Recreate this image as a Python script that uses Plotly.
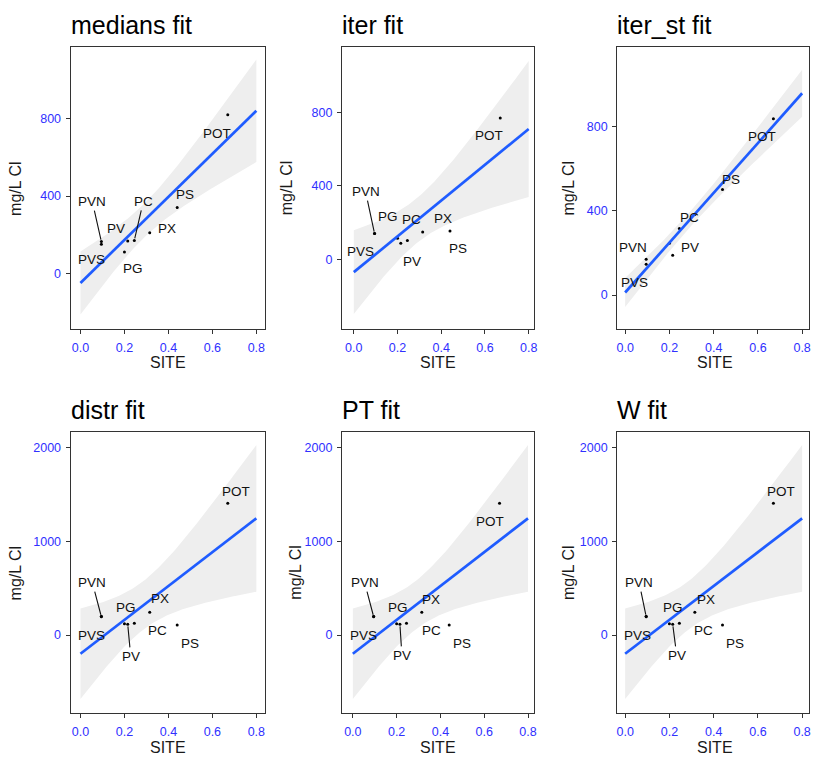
import numpy as np
import plotly.graph_objects as go

# ---------------- data ----------------
sites = ["PVN", "PVS", "PG", "PV", "PC", "PX", "PS", "POT"]
site_x = [0.095, 0.095, 0.2, 0.215, 0.245, 0.315, 0.44, 0.67]

medians_y = [164, 150, 110, 167, 170, 210, 341, 821]
iter_y = [140, 140, 115, 87, 102, 149, 154, 771]
iter_st_y = [170, 147, 247, 189, 316, 383, 502, 838]
distr_y = [196, 200, 120, 114, 125, 243, 107, 1408]
pt_y = [196, 200, 120, 114, 125, 243, 107, 1408]
w_y = [196, 200, 120, 114, 125, 243, 107, 1408]

panel_titles = ["medians fit", "iter fit", "iter_st fit", "distr fit", "PT fit", "W fit"]
panel_values = [medians_y, iter_y, iter_st_y, distr_y, pt_y, w_y]

x_ticks = [0.0, 0.2, 0.4, 0.6, 0.8]
y_ticks_top = [0, 400, 800]
y_ticks_bottom = [0, 1000, 2000]
x_title = "SITE"
y_title = "mg/L Cl"

# ---------------- layout / positions (pixels) ----------------
W, H = 813, 758
col_px = [(70, 266), (343, 536), (620, 813)]
row_px = [(47, 329), (432, 713)]
x_ranges = [[-0.045, 0.841], [-0.0545, 0.823], [-0.036, 0.831],
            [-0.045, 0.841], [-0.050, 0.826], [-0.036, 0.831]]
y_ranges = [[-289, 1172], [-381, 1159], [-161, 1179],
            [-834, 2171], [-834, 2171], [-834, 2171]]
ytitle_x = [15, 288, 572, 15, 296, 571]

# label offsets in pixels (dx, dy, draw segment)
label_offsets = [
    {"POT": (-11, 19, 0), "PS": (8, -13, 0), "PX": (17, -4, 0), "PC": (9, -39, 1),
     "PV": (-12, -12, 0), "PG": (9, 17, 0), "PVN": (-9, -40, 1), "PVS": (-10, 15, 0)},
    {"POT": (-11, 17, 0), "PS": (8, 17, 0), "PX": (20, -13, 0), "PC": (4, -21, 0),
     "PV": (11, 18, 0), "PG": (-10, -22, 0), "PVN": (-9, -42, 1), "PVS": (-14, 18, 0)},
    {"POT": (-11, 18, 0), "PS": (9, -10, 0), "PC": (10, -11, 0), "PV": (17, -8, 0),
     "PVN": (-13, -12, 0), "PVS": (-12, 18, 0)},
    {"POT": (8, -12, 0), "PS": (13, 18, 0), "PX": (10, -14, 0), "PC": (23, 7, 0),
     "PV": (3, 32, 1), "PG": (2, -16, 0), "PVN": (-9, -34, 1), "PVS": (-10, 19, 0)},
    {"POT": (-10, 18, 0), "PS": (13, 18, 0), "PX": (9, -13, 0), "PC": (25, 7, 0),
     "PV": (2, 31, 1), "PG": (1, -16, 0), "PVN": (-9, -34, 1), "PVS": (-10, 19, 0)},
    {"POT": (8, -12, 0), "PS": (13, 18, 0), "PX": (11, -13, 0), "PC": (24, 7, 0),
     "PV": (4, 31, 1), "PG": (4, -16, 0), "PVN": (-7, -34, 1), "PVS": (-9, 19, 0)},
]

FONT = "Liberation Sans, Arial, sans-serif"
TICK_BLUE = "#3030ff"
AXIS_GREY = "#333333"
T975_DF6 = 2.446912  # Student t quantile used by lm confidence band (n=8)


def lm_band(x, y, grid):
    x = np.asarray(x, float)
    y = np.asarray(y, float)
    n = len(x)
    xm, ym = x.mean(), y.mean()
    sxx = ((x - xm) ** 2).sum()
    b = ((x - xm) * (y - ym)).sum() / sxx
    a = ym - b * xm
    resid = y - (a + b * x)
    s = np.sqrt((resid ** 2).sum() / (n - 2))
    fit = a + b * grid
    se = s * np.sqrt(1.0 / n + (grid - xm) ** 2 / sxx)
    return fit, fit - T975_DF6 * se, fit + T975_DF6 * se


def px2x(p):
    return p / W


def px2y(p):
    return 1 - p / H


fig = go.Figure()
annotations = []
grid = np.linspace(0, 0.8, 101)

for i in range(6):
    r, c = divmod(i, 3)
    k = "" if i == 0 else str(i + 1)
    xa, ya = "x" + k, "y" + k
    vals = panel_values[i]
    fit, lo, hi = lm_band(site_x, vals, grid)

    fig.add_trace(go.Scatter(x=grid, y=lo, xaxis=xa, yaxis=ya, mode="lines",
                             line=dict(width=0, color="rgba(0,0,0,0)"),
                             hoverinfo="skip", showlegend=False))
    fig.add_trace(go.Scatter(x=grid, y=hi, xaxis=xa, yaxis=ya, mode="lines",
                             line=dict(width=0, color="rgba(0,0,0,0)"),
                             fill="tonexty", fillcolor="#eeeeee",
                             hoverinfo="skip", showlegend=False))
    fig.add_trace(go.Scatter(x=site_x, y=vals, xaxis=xa, yaxis=ya, mode="markers",
                             marker=dict(size=3, color="black"),
                             text=sites, showlegend=False))
    fig.add_trace(go.Scatter(x=grid, y=fit, xaxis=xa, yaxis=ya, mode="lines",
                             line=dict(width=2.7, color="#1f5cff"),
                             hoverinfo="skip", showlegend=False))

    x0, x1 = col_px[c]
    y0, y1 = row_px[r]
    axis_common = dict(showline=True, mirror=True, linecolor=AXIS_GREY, linewidth=1,
                       ticks="outside", ticklen=4, tickwidth=1, tickcolor=AXIS_GREY,
                       showgrid=False, zeroline=False,
                       tickfont=dict(family=FONT, size=12.5, color=TICK_BLUE))
    fig.layout["xaxis" + k] = dict(axis_common, domain=[px2x(x0), px2x(x1)],
                                   range=x_ranges[i], anchor=ya,
                                   tickvals=x_ticks, ticktext=[f"{t:.1f}" for t in x_ticks],
                                   ticklabelstandoff=3)
    yt = y_ticks_top if r == 0 else y_ticks_bottom
    fig.layout["yaxis" + k] = dict(axis_common, domain=[px2y(y1), px2y(y0)],
                                   range=y_ranges[i], anchor=xa,
                                   tickvals=yt, ticktext=[str(t) for t in yt],
                                   ticklabelstandoff=2)

    # panel title
    annotations.append(dict(xref="paper", yref="paper", x=px2x(x0 - 2), y=px2y(y0 - 22),
                            xanchor="left", yanchor="middle", showarrow=False,
                            text=panel_titles[i],
                            font=dict(family=FONT, size=25, color="black")))
    # axis titles
    annotations.append(dict(xref="paper", yref="paper",
                            x=px2x((x0 + min(x1, 815)) / 2 if c < 2 else 718),
                            y=px2y(y1 + 34), xanchor="center", yanchor="middle",
                            showarrow=False, text=x_title,
                            font=dict(family=FONT, size=16, color="#1a1a1a")))
    annotations.append(dict(xref="paper", yref="paper", x=px2x(ytitle_x[i]),
                            y=px2y((y0 + y1) / 2), xanchor="center", yanchor="middle",
                            textangle=-90, showarrow=False, text=y_title,
                            font=dict(family=FONT, size=16, color="#1a1a1a")))
    # point labels
    for s, xv, yv in zip(sites, site_x, vals):
        if s not in label_offsets[i]:
            continue
        dx, dy, seg = label_offsets[i][s]
        annotations.append(dict(xref=xa, yref=ya, x=xv, y=yv, text=s,
                                showarrow=True, ax=dx, ay=dy, arrowhead=0,
                                arrowwidth=1.1, standoff=2,
                                arrowcolor="#111111" if seg else "rgba(0,0,0,0)",
                                font=dict(family=FONT, size=13.5, color="#111111")))

fig.update_layout(width=W, height=H, margin=dict(l=0, r=0, t=0, b=0),
                  paper_bgcolor="white", plot_bgcolor="white",
                  showlegend=False, annotations=annotations)

fig.write_html("out.html")
